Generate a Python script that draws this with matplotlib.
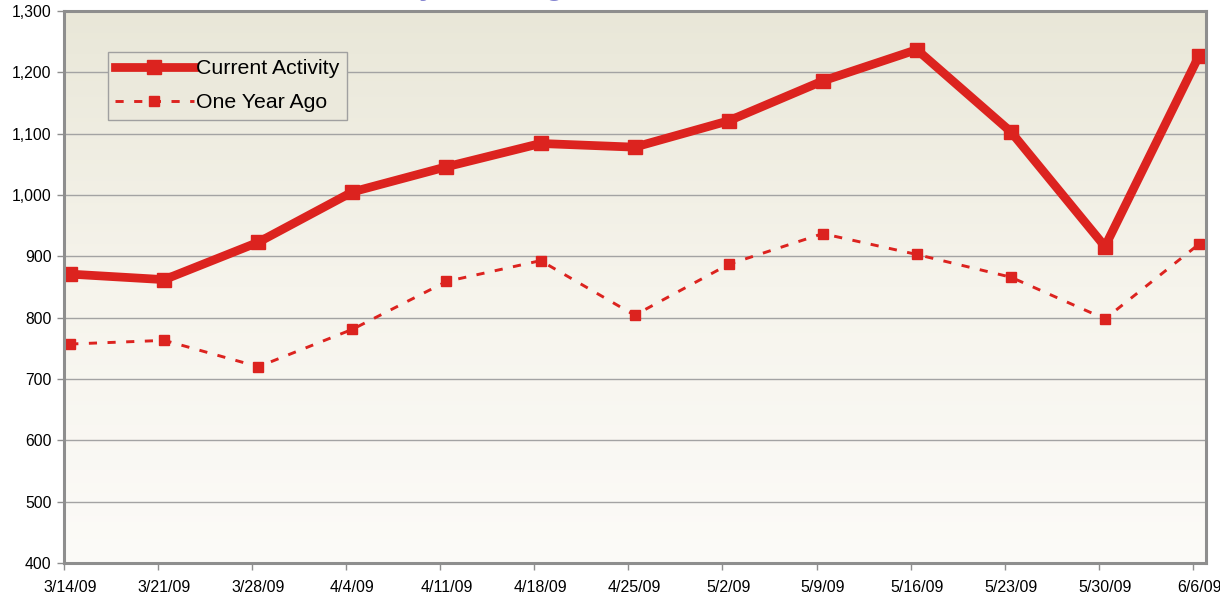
import numpy as np
import matplotlib.pyplot as plt
from matplotlib.colors import LinearSegmentedColormap

plt.rcParams['font.family'] = ['Liberation Sans', 'DejaVu Sans']

# données
semaines = ['3/14/09', '3/21/09', '3/28/09', '4/4/09', '4/11/09', '4/18/09', '4/25/09',
            '5/2/09', '5/9/09', '5/16/09', '5/23/09', '5/30/09', '6/6/09']
activite_courante = [871, 862, 923, 1005, 1046, 1084, 1078, 1121, 1186, 1237, 1103, 916, 1227]
annee_precedente = [757, 763, 720, 781, 859, 893, 804, 887, 937, 903, 866, 798, 920]
yticks = [400, 500, 600, 700, 800, 900, 1000, 1100, 1200, 1300]

rouge = '#dc231f'
gris = '#8e8e8e'

fig = plt.figure(figsize=(12.2, 5.99), dpi=100)
ax = fig.add_axes([64 / 1220, 1 - 563 / 599, (1206 - 64) / 1220, (563 - 11) / 599])

x = np.arange(len(semaines))

# fond dégradé beige -> blanc
cmap = LinearSegmentedColormap.from_list('fond', ['#fcfbf8', '#f6f4ec', '#e9e7d8'])
grad = np.linspace(0, 1, 256).reshape(-1, 1)
ax.imshow(grad, aspect='auto', cmap=cmap, origin='lower',
          extent=[0, 1, 0, 1], transform=ax.transAxes, zorder=0)

ax.plot(x, activite_courante, color=rouge, lw=6.3, marker='s', ms=9.4,
        solid_joinstyle='miter', label='Current Activity', zorder=3)
ax.plot(x, annee_precedente, color=rouge, lw=2.1, ls=(0, (2.8, 3.6)), marker='s', ms=7.2,
        label='One Year Ago', zorder=3)

ax.set_xlim(-0.064, 12.074)
ax.set_ylim(400, 1300)
ax.set_yticks(yticks)
ax.set_yticklabels([f'{v:,}' for v in yticks], fontsize=11.3)
ax.set_xticks(x)
ax.set_xticklabels(semaines, fontsize=11.5)
ax.set_xticks(x - 0.066, minor=True)
ax.tick_params(axis='x', which='major', length=0, pad=12)
ax.tick_params(axis='x', which='minor', length=5, color=gris, width=1)
ax.tick_params(axis='y', length=5, color=gris, width=1, pad=4)

ax.grid(axis='y', color='#a3a3a3', lw=1, zorder=1)
ax.set_axisbelow(True)
for side in ['left', 'bottom', 'top', 'right']:
    ax.spines[side].set_color(gris)
    ax.spines[side].set_linewidth(2.2)
    ax.spines[side].set_zorder(4)

leg = ax.legend(loc='upper left', bbox_to_anchor=(0.029, 0.945), fontsize=15.3,
                handlelength=3.7, handletextpad=0.1, borderpad=0.35, labelspacing=0.7,
                fancybox=False, framealpha=1, facecolor='#ebe9dc', edgecolor='#a0a0a0')
leg.get_frame().set_linewidth(1)

# titre coupé en haut de l'image (seules les jambes des lettres sont visibles)
fig.text(0.2705, 1.009, 'Activity Tracking', color='#8585d0', fontsize=21,
         fontweight='bold', ha='left', va='baseline')

fig.savefig('out.png', dpi=100)
